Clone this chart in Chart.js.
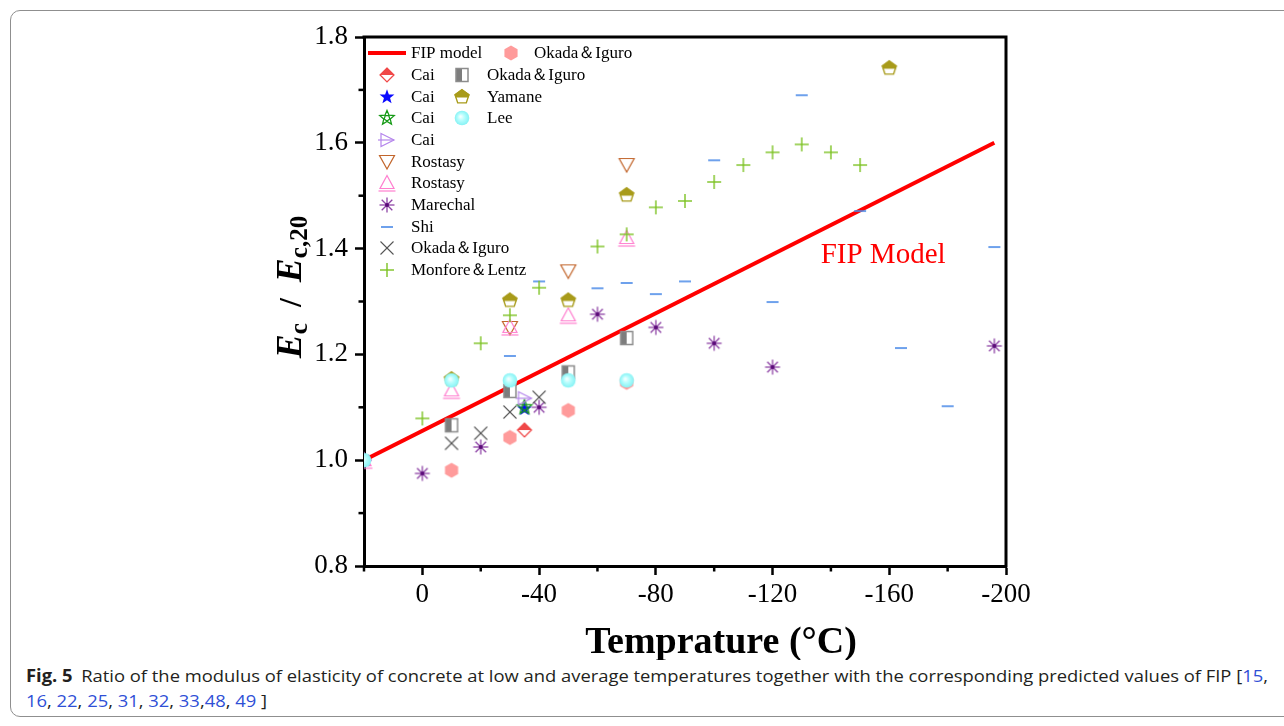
<!DOCTYPE html>
<html><head><meta charset="utf-8">
<script src="https://cdn.jsdelivr.net/npm/chart.js@4"></script>
<style>
html,body{margin:0;padding:0;background:#fff;}
body{width:1284px;height:726px;position:relative;overflow:hidden;}
#frame{position:absolute;left:10px;top:10px;width:1310px;height:707px;border:1px solid #8f8f8f;border-radius:10px;box-sizing:border-box;}
#c{position:absolute;left:0;top:0;}
#cap{position:absolute;left:26px;top:663px;font-family:"Open Sans";font-size:17px;line-height:25px;color:#231f20;white-space:nowrap;transform-origin:0 0;}
#cap b{font-weight:700;margin-right:8px}
#cap .r{color:#2f4fd6}
</style></head>
<body>
<div id="frame"></div>
<canvas id="c" width="1284" height="660"></canvas>
<div id="cap"><span id="l1"><b>Fig. 5</b>Ratio of the modulus of elasticity of concrete at low and average temperatures together with the corresponding predicted values of FIP [<span class="r">15</span>,</span><br><span class="r">16</span>, <span class="r">22</span>, <span class="r">25</span>, <span class="r">31</span>, <span class="r">32</span>, <span class="r">33</span>,<span class="r">48</span>, <span class="r">49</span> ]</div>
<script>
// ---------- data ----------
const xTicks = [0, -40, -80, -120, -160, -200];
const yTicks = [0.8, 1.0, 1.2, 1.4, 1.6, 1.8];
const fipT = [20, -196];
const fipV = [1.0, 1.6];
const caiDiamondT = [-35];
const caiDiamondV = [1.057];
const caiBlueStarT = [-35];
const caiBlueStarV = [1.097];
const caiGreenStarT = [-35];
const caiGreenStarV = [1.1];
const caiTriT = [20, -35];
const caiTriV = [1.0, 1.117];
const rostasyDownT = [-30, -50, -70];
const rostasyDownV = [1.25, 1.357, 1.558];
const rostasyUpT = [20, -10, -30, -50, -70];
const rostasyUpV = [1.0, 1.132, 1.252, 1.274, 1.42];
const marechalT = [20, 0, -20, -40, -60, -80, -100, -120, -196];
const marechalV = [1.0, 0.975, 1.025, 1.1, 1.276, 1.251, 1.221, 1.176, 1.216];
const shiT = [-30, -40, -60, -70, -80, -90, -100, -120, -130, -150, -164, -180, -196];
const shiV = [1.197, 1.338, 1.325, 1.335, 1.314, 1.338, 1.567, 1.299, 1.69, 1.471, 1.212, 1.102, 1.403];
const okadaCrossT = [-10, -20, -30, -40];
const okadaCrossV = [1.032, 1.051, 1.091, 1.119];
const monforeT = [0, -20, -30, -40, -60, -70, -80, -90, -100, -110, -120, -130, -140, -150];
const monforeV = [1.079, 1.221, 1.274, 1.326, 1.404, 1.427, 1.478, 1.49, 1.526, 1.558, 1.582, 1.597, 1.582, 1.558];
const okadaHexT = [-10, -30, -50, -70];
const okadaHexV = [0.981, 1.043, 1.094, 1.147];
const okadaSquareT = [-10, -30, -50, -70];
const okadaSquareV = [1.066, 1.131, 1.166, 1.231];
const yamaneT = [-10, -30, -50, -70, -160];
const yamaneV = [1.153, 1.302, 1.302, 1.501, 1.741];
const leeT = [20, -10, -30, -50, -70];
const leeV = [1.0, 1.151, 1.151, 1.151, 1.151];

// ---------- markers ----------
function mk(w, h, fn){const c=document.createElement('canvas');c.width=w;c.height=h;const g=c.getContext('2d');g.translate(w/2,h/2);fn(g);return c;}
function star(g,ro,ri){g.beginPath();for(let k=0;k<10;k++){const r=k%2?ri:ro;const a=-Math.PI/2+k*Math.PI/5;const px=r*Math.cos(a),py=r*Math.sin(a);k?g.lineTo(px,py):g.moveTo(px,py);}g.closePath();}
function poly(g,n,r,rot){g.beginPath();for(let k=0;k<n;k++){const a=rot+k*2*Math.PI/n;const px=r*Math.cos(a),py=r*Math.sin(a);k?g.lineTo(px,py):g.moveTo(px,py);}g.closePath();}
function ln(g,a,b,c,d){g.beginPath();g.moveTo(a,b);g.lineTo(c,d);g.stroke();}
const M = {
  hex: mk(20,20,g=>{poly(g,6,7.6,-Math.PI/2);g.fillStyle='#ff9b9b';g.fill();}),
  diamond: mk(20,20,g=>{const r=7.5;g.fillStyle='#f04848';g.beginPath();g.moveTo(-r,0);g.lineTo(0,-r);g.lineTo(r,0);g.closePath();g.fill();g.strokeStyle='#f04848';g.lineWidth=1.3;poly(g,4,r-0.6,0);g.stroke();}),
  blueStar: mk(20,20,g=>{star(g,7.8,3.2);g.fillStyle='#0a0aff';g.fill();}),
  greenStar: mk(20,20,g=>{star(g,7.6,3.4);g.strokeStyle='#169a16';g.lineWidth=1.3;g.stroke();poly(g,5,3.0,Math.PI/2);g.stroke();}),
  triRight: mk(22,20,g=>{g.strokeStyle='#b585ec';g.lineWidth=1.2;g.beginPath();g.moveTo(-6,-6.5);g.lineTo(7,0);g.lineTo(-6,6.5);g.closePath();g.stroke();ln(g,-9,0,7,0);}),
  triDown: mk(20,20,g=>{g.strokeStyle='#c2652b';g.lineWidth=1.2;g.beginPath();g.moveTo(-7.5,-6.5);g.lineTo(7.5,-6.5);g.lineTo(0,7);g.closePath();g.stroke();}),
  triUp: mk(22,22,g=>{g.strokeStyle='#ff7fcf';g.lineWidth=1.2;g.beginPath();g.moveTo(-7,5.5);g.lineTo(7,5.5);g.lineTo(0,-7.5);g.closePath();g.stroke();ln(g,-8.5,8,8.5,8);}),
  aster: mk(20,20,g=>{g.strokeStyle='#8e44a6';g.lineWidth=1.3;for(let k=0;k<4;k++){const a=k*Math.PI/4;ln(g,-7.5*Math.cos(a),-7.5*Math.sin(a),7.5*Math.cos(a),7.5*Math.sin(a));}g.fillStyle='#5a0a78';g.beginPath();g.arc(0,0,2,0,2*Math.PI);g.fill();}),
  dash: mk(16,6,g=>{g.strokeStyle='#4a8ae8';g.lineWidth=1.6;ln(g,-6,0,6,0);}),
  cross: mk(18,18,g=>{g.strokeStyle='#555';g.lineWidth=1.1;ln(g,-6.5,-6.5,6.5,6.5);ln(g,-6.5,6.5,6.5,-6.5);}),
  plus: mk(18,18,g=>{g.strokeStyle='#7cc222';g.lineWidth=1.4;ln(g,-7,0,7,0);ln(g,0,-7,0,7);}),
  halfSq: mk(16,18,g=>{g.fillStyle='#fff';g.fillRect(-6,-6.5,12,13);g.fillStyle='#7d7d7d';g.fillRect(-6,-6.5,6,13);g.strokeStyle='#8c8c8c';g.lineWidth=1.5;g.strokeRect(-6,-6.5,12,13);}),
  pent: mk(20,20,g=>{poly(g,5,8,-Math.PI/2);g.fillStyle='#fff';g.fill();g.save();g.clip();g.fillStyle='#a89b1a';g.fillRect(-10,-10,20,10.5);g.restore();poly(g,5,7.3,-Math.PI/2);g.strokeStyle='#a89b1a';g.lineWidth=1.4;g.stroke();}),
  sphere: mk(18,18,g=>{const gr=g.createRadialGradient(-1.5,-1.5,0.5,0,0,7.3);gr.addColorStop(0,'#f4ffff');gr.addColorStop(0.45,'#b4fdfd');gr.addColorStop(1,'#86f2f4');g.fillStyle=gr;g.beginPath();g.arc(0,0,7.3,0,2*Math.PI);g.fill();})
};

const series = [
  {label:'FIP model', t:fipT, v:fipV, line:true},
  {label:'Cai', t:caiDiamondT, v:caiDiamondV, m:M.diamond},
  {label:'Cai', t:caiBlueStarT, v:caiBlueStarV, m:M.blueStar},
  {label:'Cai', t:caiGreenStarT, v:caiGreenStarV, m:M.greenStar},
  {label:'Cai', t:caiTriT, v:caiTriV, m:M.triRight},
  {label:'Rostasy', t:rostasyDownT, v:rostasyDownV, m:M.triDown},
  {label:'Rostasy', t:rostasyUpT, v:rostasyUpV, m:M.triUp},
  {label:'Marechal', t:marechalT, v:marechalV, m:M.aster},
  {label:'Shi', t:shiT, v:shiV, m:M.dash},
  {label:'Okada\uFF06Iguro', t:okadaCrossT, v:okadaCrossV, m:M.cross},
  {label:'Monfore\uFF06Lentz', t:monforeT, v:monforeV, m:M.plus},
  {label:'Okada\uFF06Iguro', t:okadaHexT, v:okadaHexV, m:M.hex},
  {label:'Okada\uFF06Iguro', t:okadaSquareT, v:okadaSquareV, m:M.halfSq},
  {label:'Yamane', t:yamaneT, v:yamaneV, m:M.pent},
  {label:'Lee', t:leeT, v:leeV, m:M.sphere}
];

const datasets = series.map((s,i)=>{
  const data = s.t.map((x,j)=>({x:x, y:s.v[j]}));
  if (s.line) return {type:'line', label:s.label, data, borderColor:'#ff0000', borderWidth:4, pointRadius:0, fill:false, tension:0, order:series.length-i};
  return {label:s.label, data, pointStyle:s.m, pointRadius:7, pointHoverRadius:7, order:series.length-i};
});

const SERIF = '"Liberation Serif", "Times New Roman", serif';
const deco = {
  id:'deco',
  afterDraw(chart){
    const g = chart.ctx, a = chart.chartArea, xs = chart.scales.x, ys = chart.scales.y;
    g.save();
    // top & right frame
    g.strokeStyle='#000'; g.lineWidth=3;
    g.beginPath(); g.moveTo(a.left-1.5, a.top); g.lineTo(a.right, a.top); g.lineTo(a.right, a.bottom+1.5); g.stroke();
    // minor ticks
    g.lineWidth=2.5;
    [20,-20,-60,-100,-140,-180].forEach(v=>{const p=xs.getPixelForValue(v); g.beginPath(); g.moveTo(p,a.bottom); g.lineTo(p,a.bottom+5.5); g.stroke();});
    [0.9,1.1,1.3,1.5,1.7].forEach(v=>{const p=ys.getPixelForValue(v); g.beginPath(); g.moveTo(a.left,p); g.lineTo(a.left-5.5,p); g.stroke();});
    // legend
    const rows=[53,75,97,118,140,162,183,205,227,248,270];
    g.font='17px '+SERIF; g.fillStyle='#000'; g.textBaseline='middle'; g.textAlign='left';
    const place=(idx,mx,tx,y)=>{const s=series[idx]; if(s.line){g.strokeStyle='#ff0000';g.lineWidth=4;g.beginPath();g.moveTo(368,y);g.lineTo(406,y);g.stroke();} else {g.drawImage(s.m, Math.round(mx-s.m.width/2), Math.round(y-s.m.height/2));} g.fillStyle='#000'; g.fillText(s.label, tx, y+1);};
    for(let i=0;i<11;i++) place(i,387,411,rows[i]);
    place(11,511,534,rows[0]);
    for(let i=12;i<15;i++) place(i,462,487,rows[i-11]);
    // annotation
    g.fillStyle='#ff0000'; g.font='29px '+SERIF; g.textBaseline='alphabetic';
    g.fillText('FIP Model', xs.getPixelForValue(-136.5), ys.getPixelForValue(1.372));
    // x title
    g.fillStyle='#000'; g.font='bold 38px '+SERIF; g.textAlign='center';
    g.fillText('Temprature (\u00B0C)', 721, 653);
    // y title
    g.save(); g.translate(301, 287); g.rotate(-Math.PI/2); g.textAlign='left';
    const parts=[['E','italic bold 36px',0],['c','bold 25px',6],['  /  ','bold 32px',0],['E','italic bold 36px',0],['c,20','bold 25px',6]];
    let tw=0; parts.forEach(p=>{g.font=p[1]+' '+SERIF; tw+=g.measureText(p[0]).width;});
    let cx=-tw/2; parts.forEach(p=>{g.font=p[1]+' '+SERIF; g.fillText(p[0],cx,p[2]); cx+=g.measureText(p[0]).width;});
    g.restore();
    g.restore();
  }
};

new Chart(document.getElementById('c').getContext('2d'), {
  type:'scatter',
  data:{datasets},
  options:{
    responsive:false, animation:false, events:[],
    layout:{padding:{left:304, right:278, top:37, bottom:44}},
    plugins:{legend:{display:false}, tooltip:{enabled:false}},
    scales:{
      x:{type:'linear', reverse:true, min:-200, max:20,
        afterBuildTicks:s=>{s.ticks=xTicks.map(v=>({value:v}));},
        afterFit:s=>{s.height=50;},
        grid:{drawOnChartArea:false, drawTicks:true, tickLength:9, tickWidth:2.5, tickColor:'#000'},
        border:{display:true, color:'#000', width:3},
        ticks:{color:'#000', font:{family:SERIF, size:27}, padding:4, maxRotation:0, autoSkip:false, callback:v=>String(v)}},
      y:{type:'linear', min:0.8, max:1.8,
        afterBuildTicks:s=>{s.ticks=yTicks.map(v=>({value:v}));},
        afterFit:s=>{s.width=60;},
        grid:{drawOnChartArea:false, drawTicks:true, tickLength:9, tickWidth:2.5, tickColor:'#000'},
        border:{display:true, color:'#000', width:3},
        ticks:{color:'#000', font:{family:SERIF, size:27}, padding:7, autoSkip:false, callback:v=>Number(v).toFixed(1)}}
    }
  },
  plugins:[deco]
});

// fit caption line width to the reference
const l1=document.getElementById('l1'); const w=l1.getBoundingClientRect().width;
document.getElementById('cap').style.transform='scaleX('+(1242/w)+')';
</script>
</body></html>
